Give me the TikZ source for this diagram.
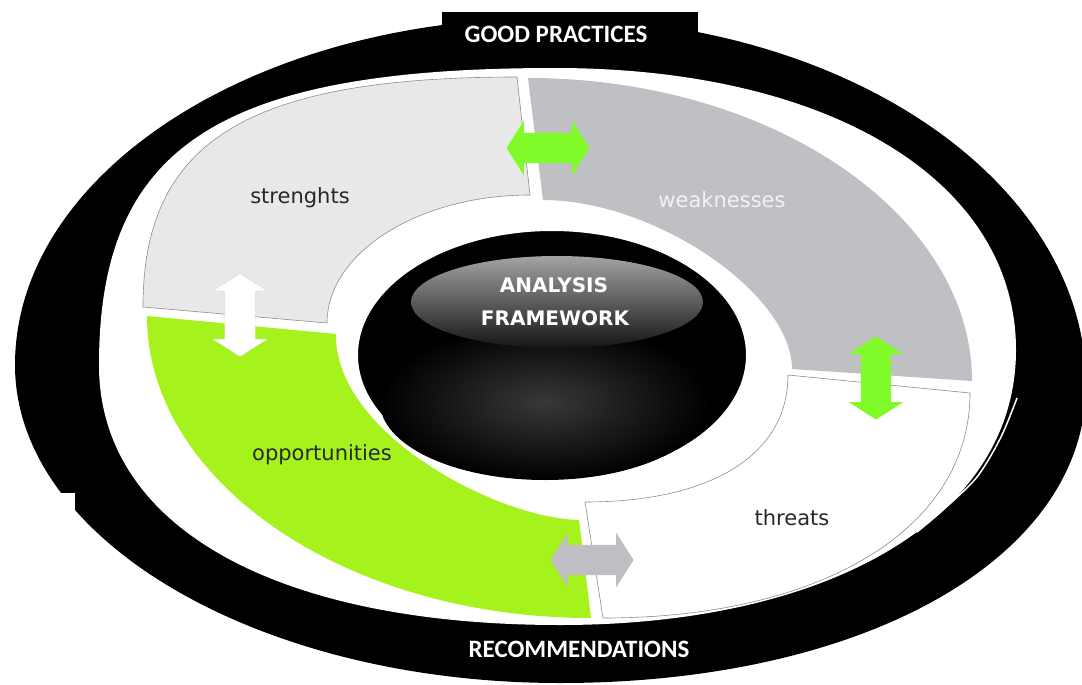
\documentclass[tikz,border=0pt]{standalone}
\usepackage{fontspec}
\usetikzlibrary{shapes.arrows}
\newfontfamily\labelfont{DejaVu Sans}
\newfontfamily\bandfont{Carlito}
\definecolor{strcol}{RGB}{232,232,232}
\definecolor{weakcol}{RGB}{190,192,195}
\definecolor{oppcol}{RGB}{166,242,28}
\definecolor{arrgreen}{RGB}{128,250,40}
\definecolor{arrgrey}{RGB}{190,190,196}
\definecolor{edgecol}{RGB}{140,140,150}
\definecolor{labelcol}{RGB}{40,40,40}

\begin{document}
\begin{tikzpicture}[x=1pt, y=-1pt,
  seglabel/.style={font=\labelfont\fontsize{21}{25}\selectfont, text=labelcol, anchor=base, inner sep=0pt},
  bandlabel/.style={font=\bandfont\bfseries\fontsize{25}{30}\selectfont, text=white, anchor=base, inner sep=0pt},
  framelabel/.style={font=\labelfont\bfseries\fontsize{20}{24}\selectfont, text=white, anchor=base, inner sep=0pt},
  swaparrow/.style={double arrow, minimum height=83, inner xsep=0pt, inner ysep=15pt,
    double arrow head extend=12pt, double arrow tip angle=115}]
  \useasboundingbox (0,0) rectangle (1082,685);
  \clip (0,0) rectangle (1082,685);

  % Outer black band
  \coordinate (oL) at (15,365);
  \coordinate (oT) at (550,18);
  \coordinate (oR) at (1086,385);
  \coordinate (oB) at (560,683);
  \fill[black] (oL) .. controls (15,173) and (255,18) .. (oT)
    .. controls (846,18) and (1086,182) .. (oR)
    .. controls (1086,558) and (865,683) .. (oB)
    .. controls (259,683) and (15,540) .. (oL) -- cycle;
  \coordinate (iL) at (99,365);
  \coordinate (iT) at (555,68);
  \coordinate (iR) at (1016,350);
  \coordinate (iB) at (560,625);
  \fill[white] (iL) .. controls (99,147) and (218,68) .. (iT)
    .. controls (832,68) and (1016,182) .. (iR)
    .. controls (1016,515) and (834,625) .. (iB)
    .. controls (274,625) and (99,526) .. (iL) -- cycle;
  \fill[black] (442,12) rectangle (698,50);
  \fill[white] (0,0) rectangle (125,150);
  \fill[white] (0,493) rectangle (75,685);
  \draw[white, line width=1.5] plot[smooth] coordinates {(1017,398) (1001,437) (977,477) (943,510) (917,532)};

  % Four segments
  \coordinate (s1) at (143,307);
  \coordinate (s2) at (517,77);
  \coordinate (s3) at (530,195);
  \coordinate (s4) at (327,323);
  \filldraw[fill=strcol, draw=edgecol, line width=0.6] (s1) .. controls (143,141) and (248,77) .. (s2)
    -- (s3) .. controls (418,195) and (327,253) .. (s4) -- cycle;

  \coordinate (w1) at (528,78);
  \coordinate (w2) at (972,381);
  \coordinate (w3) at (792,369);
  \coordinate (w4) at (543,200);
  \fill[weakcol] (w1) .. controls (772,78) and (972,215) .. (w2)
    -- (w3) .. controls (792,294) and (655,200) .. (w4) -- cycle;

  \coordinate (o1) at (147,316);
  \coordinate (o2) at (591,618);
  \coordinate (o3) at (579,520);
  \coordinate (o4) at (336,334);
  \fill[oppcol] (o1) .. controls (147,482) and (346,618) .. (o2)
    -- (o3) .. controls (495,518) and (334,432) .. (o4) -- cycle;

  \coordinate (t1) at (788,375);
  \coordinate (t2) at (970,393);
  \coordinate (t3) at (603,618);
  \coordinate (t4) at (585,502);
  \filldraw[fill=white, draw=edgecol, line width=0.6] (t1) -- (t2)
    .. controls (970,528) and (823,618) .. (t3)
    -- (t4) .. controls (711,502) and (788,455) .. (t1) -- cycle;

  % Centre disc with white glow
  \filldraw[fill=black, draw=white, line width=6] (552,355) ellipse [x radius=197pt, y radius=127pt];
  \shade[inner color=black!78, outer color=black] (545,402) ellipse [x radius=165pt, y radius=78pt];
  \shade[top color=black!36, bottom color=black!92] (557,302) ellipse [x radius=146pt, y radius=46pt];

  % Swap arrows
  \node[swaparrow, fill=arrgreen] (swarrow) at (548,148) {};
  \node[swaparrow, fill=white, draw=gray!25, rotate=90] (soarrow) at (240,315) {};
  \node[swaparrow, fill=arrgreen, rotate=90] (wtarrow) at (876,378) {};
  \node[swaparrow, fill=arrgrey] (otarrow) at (592,560) {};

  % Labels
  \node[seglabel] (strtxt) at (300,203) {strenghts};
  \node[seglabel, text=white!95!black] (weaktxt) at (722,207) {weaknesses};
  \node[seglabel] (opptxt) at (322,460) {opportunities};
  \node[seglabel] (thrtxt) at (792,525) {threats};
  \node[framelabel] (anatxt) at (554,292) {ANALYSIS};
  \node[framelabel] (frmtxt) at (555,325) {FRAMEWORK};
  \node[bandlabel] (goodtxt) at (556,43) {GOOD PRACTICES};
  \node[bandlabel] (rectxt) at (579,657) {RECOMMENDATIONS};
\end{tikzpicture}
\end{document}
